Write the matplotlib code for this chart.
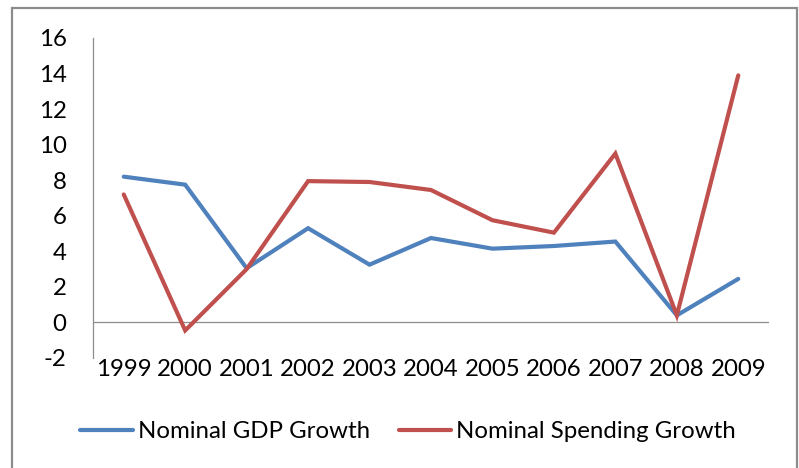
import matplotlib
matplotlib.use("Agg")
import matplotlib.pyplot as plt
from matplotlib.patches import Rectangle

years = ["1999", "2000", "2001", "2002", "2003", "2004", "2005", "2006", "2007", "2008", "2009"]
gdp_growth = [8.2, 7.75, 3.05, 5.3, 3.25, 4.75, 4.15, 4.3, 4.55, 0.4, 2.45]
spending_growth = [7.2, -0.45, 3.0, 7.95, 7.9, 7.45, 5.75, 5.05, 9.5, 0.4, 13.9]
yticks = [-2, 0, 2, 4, 6, 8, 10, 12, 14, 16]

plt.rcParams['font.family'] = ['Lato', 'DejaVu Sans']
FS = 17.3
W, H = 799, 468
fig = plt.figure(figsize=(W / 100, H / 100), dpi=100)

# chart area border
fig.patches.append(Rectangle((12 / W, -0.05), (797 - 12) / W, 1.05 - 8 / H,
                             transform=fig.transFigure, fill=False,
                             edgecolor='#8c8c8c', linewidth=1.6))

left, right = 93 / W, 769 / W
top, bottom = 1 - 38 / H, 1 - 358 / H
ax = fig.add_axes([left, bottom, right - left, top - bottom])

x = list(range(len(years)))
ax.plot(x, gdp_growth, color='#4F81BD', linewidth=3.0, label='Nominal GDP Growth',
        solid_joinstyle='miter', solid_capstyle='round')
ax.plot(x, spending_growth, color='#C0504D', linewidth=3.0, label='Nominal Spending Growth',
        solid_joinstyle='miter', solid_capstyle='round')

ax.set_xlim(-0.5, len(years) - 0.5)
ax.set_ylim(-2, 16)
ax.set_yticks(yticks)
ax.set_yticklabels([str(v) for v in yticks])
ax.set_xticks(x)
ax.set_xticklabels(years)
ax.axhline(0, color='#8c8c8c', linewidth=0.9, zorder=0)

for s in ['top', 'right', 'bottom']:
    ax.spines[s].set_visible(False)
ax.spines['left'].set_color('#8c8c8c')
ax.spines['left'].set_linewidth(0.9)

ax.tick_params(axis='y', length=0, pad=19, labelsize=FS, colors='black')
ax.tick_params(axis='x', length=0, pad=1, labelsize=FS, colors='black')

fig.legend(loc='center', bbox_to_anchor=(408 / W, 1 - 432 / H), ncol=2, frameon=False,
           fontsize=FS, handlelength=2.2, handletextpad=0.2, columnspacing=1.2)

fig.savefig('out.png', dpi=100)
